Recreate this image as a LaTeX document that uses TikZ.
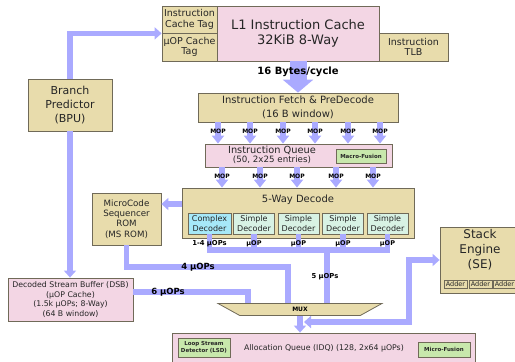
\documentclass[tikz,border=0pt]{standalone}
\usepackage{fontspec}
\setmainfont{DejaVu Sans}
\usetikzlibrary{arrows.meta,shapes.geometric}

\definecolor{tanfill}{RGB}{232,220,172}
\definecolor{pinkfill}{RGB}{243,214,228}
\definecolor{greenfill}{RGB}{200,232,172}
\definecolor{cyanfill}{RGB}{166,232,248}
\definecolor{mintfill}{RGB}{216,242,228}
\definecolor{flowblue}{RGB}{170,170,255}
\definecolor{edge}{RGB}{112,106,88}

\newcommand{\fsz}[2]{\fontsize{#1}{#2}\selectfont}

\begin{document}
\begin{tikzpicture}[
    x=1pt, y=-1pt,
    every node/.style={text=black!85},
    blk/.style={
        draw=edge,
        line width=0.8pt,
        inner sep=0pt,
        align=center
    },
    tanblk/.style={blk, fill=tanfill},
    pinkblk/.style={blk, fill=pinkfill},
    greenblk/.style={blk, fill=greenfill, font=\fsz{5.5}{6.5}\bfseries},
    flow/.style={draw=flowblue, line width=5.5pt},
    flowtip/.style={flow, -{Triangle[width=12pt,length=7pt]}},
    mop/.style={draw=flowblue, line width=6pt, -{Triangle[width=12pt,length=8pt]}},
    tag/.style={text=black, font=\fsz{6}{7}\bfseries, inner sep=0pt}
]
    \useasboundingbox (0,0) rectangle (515,362);

    % L1 instruction cache row
    \node[tanblk, minimum width=55pt, minimum height=27pt, font=\fsz{9.5}{10.5}] (itag) at (189.5,19.5) {Instruction\\Cache Tag};
    \node[tanblk, minimum width=55pt, minimum height=28pt, font=\fsz{9.5}{10.5}] (utag) at (189.5,47) {µOP Cache\\Tag};
    \node[tanblk, minimum width=69pt, minimum height=28pt, font=\fsz{9.5}{10.5}] (itlb) at (413.5,47) {Instruction\\TLB};
    \node[pinkblk, minimum width=162pt, minimum height=55pt, font=\fsz{13}{15.5}] (l1) at (298,33.5) {L1 Instruction Cache\\32KiB 8-Way};

    % Branch predictor
    \node[tanblk, minimum width=84pt, minimum height=52pt, font=\fsz{11}{14}] (bpu) at (70,105) {Branch\\Predictor\\(BPU)};

    % Fetch and queue
    \node[tanblk, minimum width=200pt, minimum height=29pt, font=\fsz{10}{13.5}] (fetch) at (298,107.5) {Instruction Fetch \& PreDecode\\(16 B window)};
    \node[pinkblk, minimum width=187pt, minimum height=23pt] (iq) at (298.5,155.5) {};
    \node[font=\fsz{9.8}{11}, inner sep=0pt] (iqtitle) at (272,150) {Instruction Queue};
    \node[font=\fsz{8.7}{10}, inner sep=0pt] (iqsub) at (272,159.5) {(50, 2x25 entries)};
    \node[greenblk, minimum width=50pt, minimum height=14pt] (mfuse) at (361,156) {Macro-Fusion};

    % Decoders
    \node[tanblk, minimum width=232pt, minimum height=50pt] (decode) at (298,213) {};
    \node[font=\fsz{10}{12}, inner sep=0pt] (decodetitle) at (298,199.5) {5-Way Decode};
    \node[blk, fill=cyanfill, minimum width=43pt, minimum height=21pt, font=\fsz{8}{9.3}] (dec0) at (209.5,223.5) {Complex\\Decoder};
    \foreach \x [count=\i] in {254,298.5,343,387.5}
        \node[blk, fill=mintfill, minimum width=41pt, minimum height=21pt, font=\fsz{8}{9.3}] (dec\i) at (\x,223.5) {Simple\\Decoder};

    \node[tanblk, minimum width=69pt, minimum height=52pt, font=\fsz{8.7}{10.2}] (msrom) at (126.5,219) {MicroCode\\Sequencer\\ROM\\(MS ROM)};

    % uop cache
    \node[pinkblk, minimum width=125pt, minimum height=43pt, font=\fsz{7.8}{9.5}] (dsb) at (70.5,299.5) {Decoded Stream Buffer (DSB)\\(µOP Cache)\\(1.5k µOPs; 8-Way)\\(64 B window)};

    % MUX
    \node[trapezium, shape border rotate=180, trapezium stretches=true,
          trapezium left angle=58, trapezium right angle=58,
          draw=edge, fill=tanfill, line width=0.8pt,
          minimum width=164pt, minimum height=12pt, tag] (mux) at (300,309.5) {MUX};

    % Stack engine
    \node[tanblk, minimum width=80pt, minimum height=66pt] (se) at (480,260) {};
    \node[font=\fsz{12}{15}, align=center, inner sep=0pt] (setext) at (480,250) {Stack\\Engine\\(SE)};
    \foreach \x [count=\i] in {455.5,480.5,504.5}
        \node[tanblk, minimum width=23pt, minimum height=8pt, font=\fsz{6.5}{7}] (add\i) at (\x,284) {Adder};

    % Allocation queue
    \node[pinkblk, minimum width=303pt, minimum height=36pt] (aq) at (323.5,351) {};
    \node[font=\fsz{7.8}{9}, inner sep=0pt] (aqtext) at (324,348) {Allocation Queue (IDQ) (128, 2x64 µOPs)};
    \node[greenblk, minimum width=52pt, minimum height=19pt] (lsd) at (204,347.5) {Loop Stream\\Detector (LSD)};
    \node[greenblk, minimum width=52pt, minimum height=15pt] (mfuse2) at (444,349.5) {Micro-Fusion};

    % Fetch bandwidth
    \draw[draw=flowblue, line width=17pt, -{Triangle[width=30pt,length=13pt]}] (l1.south) -- (fetch.north);
    \node[tag, font=\fsz{10}{12}\bfseries] (bytes) at (298,72) {16 Bytes/cycle};

    % Macro-ops
    \foreach \x [count=\i] in {218,250,283,315,348,380} {
        \coordinate (mopa\i) at (\x,131);
        \draw[mop] (fetch.south -| mopa\i) -- (iq.north -| mopa\i);
        \node[tag] (mopalbl\i) at (mopa\i) {MOP};
    }
    \foreach \x [count=\i] in {222,260,297,336,373} {
        \coordinate (mopb\i) at (\x,176);
        \draw[mop] (iq.south -| mopb\i) -- (decode.north -| mopb\i);
        \node[tag] (mopblbl\i) at (mopb\i) {MOP};
    }

    % Branch predictor links
    \draw[flowtip] (bpu.north) |- (itag.south west);
    \draw[flowtip] (bpu.south) -- (dsb.north -| bpu.south);

    % MS ROM link
    \coordinate (romlink) at (170,204);
    \draw[flowtip] (decode.west |- romlink) -- (msrom.east |- romlink);

    % Decoder bus
    \coordinate (bus) at (327,250);
    \draw[flow] (dec0.south) |- (bus) -| (dec4.south);
    \foreach \i in {1,2,3}
        \draw[flow] (dec\i.south) -- (dec\i.south |- bus);
    \draw[flow] (bus) -- (mux.north -| bus);

    % MS ROM and DSB into the MUX
    \coordinate (fourbend) at (288,267);
    \draw[flow] (msrom.south) |- (fourbend) -- (mux.north -| fourbend);
    \coordinate (sixbend) at (248,292);
    \draw[flow] (dsb.east |- sixbend) -| (mux.north -| sixbend);

    % MUX out, stack engine loop
    \draw[flowtip] (mux.south) -- (aq.north -| mux.south);
    \coordinate (muxjoin) at (304,322);
    \coordinate (seloop) at (409,260);
    \draw[flow, {Triangle[width=12pt,length=7pt]}-{Triangle[width=12pt,length=7pt]}] (muxjoin) -| (seloop) -- (se.west |- seloop);

    % uop labels
    \node[tag, font=\fsz{6.8}{8}\bfseries] (uop0) at (209.5,244) {1-4 µOPs};
    \foreach \i in {1,...,4}
        \node[tag, font=\fsz{6.5}{8}\bfseries] (uop\i) at (dec\i.south |- uop0) {µOP};
    \node[tag, font=\fsz{8.5}{10}\bfseries] (four) at (198,267) {4 µOPs};
    \node[tag, font=\fsz{8.5}{10}\bfseries] (six) at (168,292) {6 µOPs};
    \node[tag, font=\fsz{6.8}{8}\bfseries] (five) at (325,277) {5 µOPs};

\end{tikzpicture}
\end{document}
